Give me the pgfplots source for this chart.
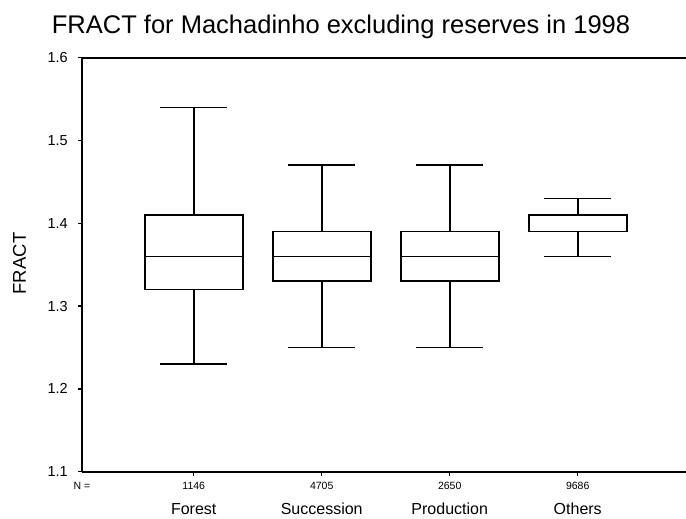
\documentclass[border=0pt]{standalone}
\usepackage{fontspec}
\setmainfont{Liberation Sans}
\usepackage{pgfplots}
\pgfplotsset{compat=1.18}
\usepgfplotslibrary{statistics}
\newcommand{\Nlab}[2]{\node[anchor=base, inner sep=0pt, font=\fontsize{10.5bp}{12bp}\selectfont] at ([yshift=-17.3bp]axis cs:#1,1.1) {#2};}
\newcommand{\Clab}[2]{\node[anchor=base, inner sep=0pt, font=\fontsize{16bp}{18bp}\selectfont] at ([yshift=-42.3bp]axis cs:#1,1.1) {#2};}
\pgfplotsset{
  bx/.style={black, line width=1.7bp, mark=none, boxplot/draw direction=y, boxplot/box extend=0.766, boxplot/whisker extend=0.52},
}
\begin{document}
\begin{tikzpicture}
\useasboundingbox (0bp,0bp) rectangle (686bp,519bp);
\begin{axis}[
  at={(82bp,47.3bp)}, anchor=south west,
  scale only axis, width=604bp, height=414bp,
  xmin=0.127, xmax=4.846, ymin=1.1, ymax=1.6,
  axis x line*=bottom, axis y line*=left,
  axis line style={-, line width=2bp, black},
  tick align=outside, major tick length=4bp,
  tick style={black, line width=1.5bp},
  xtick={1,2,3,4}, xticklabels={},
  ytick={1.1,1.2,1.3,1.4,1.5,1.6},
  yticklabels={1.1,1.2,1.3,1.4,1.5,1.6},
  yticklabel style={font=\fontsize{14.5bp}{16bp}\selectfont, anchor=east, inner sep=0pt, xshift=-10bp},
  clip=false,
]
\addplot[bx, boxplot prepared={median=1.36, upper quartile=1.41, lower quartile=1.32, upper whisker=1.54, lower whisker=1.23, draw position=1}] coordinates {};
\addplot[bx, boxplot prepared={median=1.36, upper quartile=1.39, lower quartile=1.33, upper whisker=1.47, lower whisker=1.25, draw position=2}] coordinates {};
\addplot[bx, boxplot prepared={median=1.36, upper quartile=1.39, lower quartile=1.33, upper whisker=1.47, lower whisker=1.25, draw position=3}] coordinates {};
\addplot[bx, boxplot prepared={median=1.39, upper quartile=1.41, lower quartile=1.39, upper whisker=1.43, lower whisker=1.36, draw position=4}] coordinates {};
% median lines
\addplot[black, line width=1.7bp, mark=none] coordinates {(0.617,1.36) (1.383,1.36)};
\addplot[black, line width=1.7bp, mark=none] coordinates {(1.617,1.36) (2.383,1.36)};
\addplot[black, line width=1.7bp, mark=none] coordinates {(2.617,1.36) (3.383,1.36)};
\draw[line width=2bp] (rel axis cs:0,1) -- (rel axis cs:1,1);
\Nlab{1}{1146}
\Nlab{2}{4705}
\Nlab{3}{2650}
\Nlab{4}{9686}
\Clab{1}{Forest}
\Clab{2}{Succession}
\Clab{3}{Production}
\Clab{4}{Others}
\node[anchor=base, inner sep=0pt, font=\fontsize{10.5bp}{12bp}\selectfont] at ([yshift=-17.3bp]rel axis cs:0,0) {N =};
\end{axis}
\node[anchor=base west, inner sep=0pt, font=\fontsize{25.5bp}{28bp}\selectfont] at (51.7bp,485.7bp) {FRACT for Machadinho excluding reserves in 1998};
\node[rotate=90, inner sep=0pt, font=\fontsize{18.5bp}{20bp}\selectfont] at (19.5bp,255.5bp) {FRACT};
\end{tikzpicture}
\end{document}
